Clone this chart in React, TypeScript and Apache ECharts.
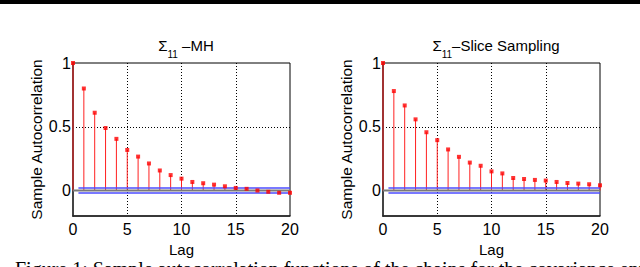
import React, { useEffect, useRef } from "react";
import * as echarts from "echarts";

const lags = [0, 1, 2, 3, 4, 5, 6, 7, 8, 9, 10, 11, 12, 13, 14, 15, 16, 17, 18, 19, 20];
const mhAcf = [1, 0.8, 0.61, 0.49, 0.405, 0.318, 0.266, 0.212, 0.157, 0.121, 0.093, 0.067, 0.057, 0.046, 0.033, 0.02, 0.013, 0.0, -0.01, -0.018, -0.018];
const sliceAcf = [1, 0.78, 0.667, 0.558, 0.457, 0.395, 0.322, 0.264, 0.219, 0.194, 0.15, 0.134, 0.098, 0.09, 0.083, 0.078, 0.067, 0.059, 0.054, 0.049, 0.041];
const confBound = 0.02;
const boundRange = [0.5, 20];
const zeroRange = [0, 20];
const xTicks = [0, 5, 10, 15, 20];
const yTicks = [0, 0.5, 1];
const titles = [
  { sym: "Σ", sub: "11", rest: " –MH" },
  { sym: "Σ", sub: "11", rest: "–Slice Sampling" },
];
const caption = "Figure 1: Sample autocorrelation functions of the chains for the covariance entry";

const FONT = "'Liberation Sans', Arial, Helvetica, sans-serif";

export default function App() {
  const ref = useRef<HTMLDivElement>(null);
  useEffect(() => {
    document.body.style.margin = "0";
    const chart = echarts.init(ref.current!, null, { renderer: "svg" });
    const grids = [
      { left: 73, right: 350, top: 63, bottom: 51 },
      { left: 383, right: 40, top: 63, bottom: 51 },
    ];
    const datasets = [mhAcf, sliceAcf];
    const series: any[] = [];
    datasets.forEach((vals, gi) => {
      const pts = lags.map((l, i) => [l, vals[i]]);
      series.push({
        type: "custom",
        xAxisIndex: gi,
        yAxisIndex: gi,
        z: 2,
        clip: false,
        data: pts,
        encode: { x: 0, y: 1 },
        renderItem: (params: any, api: any) => {
          const x = api.value(0);
          const y = api.value(1);
          const p0 = api.coord([x, 0]);
          const p1 = api.coord([x, y]);
          return {
            type: "line",
            shape: { x1: p0[0], y1: p0[1], x2: p1[0], y2: p1[1] },
            style: { stroke: "#ff2020", lineWidth: 1 },
          };
        },
      });
      series.push({
        type: "line",
        xAxisIndex: gi,
        yAxisIndex: gi,
        z: 3,
        symbol: "none",
        data: zeroRange.map((x) => [x, 0]),
        lineStyle: { color: "#7a7a7a", width: 2 },
      });
      [confBound, -confBound].forEach((b) => {
        series.push({
          type: "line",
          xAxisIndex: gi,
          yAxisIndex: gi,
          z: 4,
          symbol: "none",
          data: boundRange.map((x) => [x, b]),
          lineStyle: { color: "#4d4dff", width: 1.6 },
        });
      });
      series.push({
        type: "scatter",
        xAxisIndex: gi,
        yAxisIndex: gi,
        z: 5,
        symbol: "rect",
        symbolSize: 4,
        data: pts,
        itemStyle: { color: "#ff0000" },
      });
    });

    const option: any = {
      animation: false,
      backgroundColor: "#fff",
      title: titles.map((t, i) => ({
        text: `{m|${t.sym}}{s|${t.sub}}{m|${t.rest}}`,
        left: i === 0 ? 181 : 491,
        top: 33,
        textAlign: "center",
        textStyle: {
          fontWeight: "normal",
          rich: {
            m: { fontSize: 15, fontWeight: "normal", fontFamily: FONT, color: "#000", lineHeight: 18, verticalAlign: "top" },
            s: { fontSize: 10, fontWeight: "normal", fontFamily: FONT, color: "#000", lineHeight: 21, verticalAlign: "bottom" },
          },
        },
      })),
      grid: grids.map((g) => ({ ...g, show: true, borderColor: "#000", borderWidth: 1, backgroundColor: "transparent" })),
      xAxis: grids.map((_, gi) => ({
        type: "value",
        gridIndex: gi,
        min: 0,
        max: 20,
        interval: 5,
        name: "Lag",
        nameLocation: "middle",
        nameGap: 16,
        nameTextStyle: { fontSize: 15, fontFamily: FONT, color: "#000" },
        axisLine: { show: true, onZero: false, lineStyle: { color: "#222", width: 1.5 } },
        axisTick: { show: false },
        axisLabel: { fontSize: 16, fontFamily: FONT, color: "#000", margin: 5, customValues: xTicks },
        splitLine: { show: true, showMinLine: false, showMaxLine: false, lineStyle: { color: "#000", type: [1, 2], width: 1 } },
      })),
      yAxis: grids.map((_, gi) => ({
        type: "value",
        gridIndex: gi,
        min: -0.2,
        max: 1,
        name: "Sample Autocorrelation",
        nameLocation: "middle",
        nameGap: 28,
        nameTextStyle: { fontSize: 15.5, fontFamily: FONT, color: "#000" },
        axisLine: { show: true, onZero: false, lineStyle: { color: "#444", width: 2 } },
        axisTick: { show: false, customValues: yTicks },
        axisLabel: { fontSize: 16, fontFamily: FONT, color: "#000", margin: 2, customValues: yTicks },
        splitLine: { show: true, showMinLine: false, showMaxLine: false, lineStyle: { color: "#000", type: [1, 2], width: 1 } },
      })),
      graphic: [
        { type: "rect", left: 0, top: 0, shape: { width: 640, height: 4 }, style: { fill: "#000" } },
        { type: "text", left: 15, top: 259, style: { text: caption, fontSize: 20, fontFamily: "'Liberation Serif', serif", fill: "#000" } },
      ],
      series,
    };
    chart.setOption(option);
    return () => chart.dispose();
  }, []);
  return <div ref={ref} style={{ width: 640, height: 267 }} />;
}
